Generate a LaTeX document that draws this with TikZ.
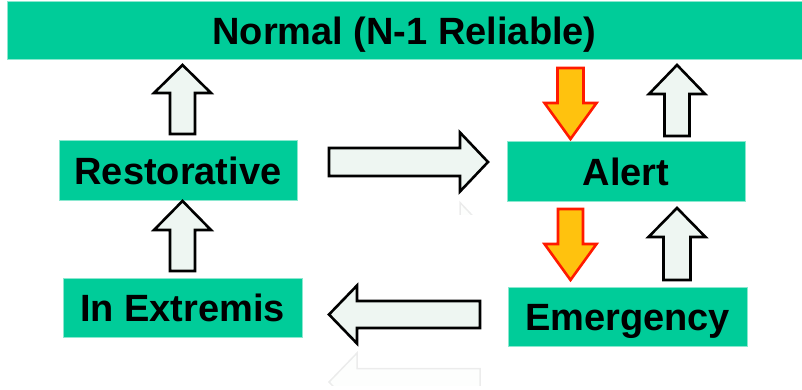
\documentclass[tikz,border=0pt]{standalone}
\usepackage{fontspec}
\setmainfont{Liberation Sans}
\definecolor{boxgreen}{HTML}{00CC99}
\definecolor{boxedge}{HTML}{8AE8CF}
\definecolor{arrowfill}{HTML}{EEF6F2}
\definecolor{warnfill}{HTML}{FFC20E}
\definecolor{warnedge}{HTML}{FF1A00}
\tikzset{
  statebox/.style={fill=boxgreen, draw=boxedge, line width=1pt, inner sep=0pt,
    font=\fontsize{38}{40}\selectfont\bfseries, text height=27.2pt, text depth=0pt},
  okarrow/.style={fill=arrowfill, draw=black, line width=2.6pt, miter limit=10},
  warnarrow/.style={fill=warnfill, draw=warnedge, line width=2.6pt, miter limit=10},
  ghost/.style={fill=arrowfill, draw=black!60, line width=1.5pt, opacity=0.12},
}
% vertical block arrow: {cx}{tail y}{tip y}{shaft half width}{head half width}{head base y}
\newcommand{\vblock}[7]{%
  \path[#1] (#2-#5,#3) -- (#2-#5,#7) -- (#2-#6,#7) -- (#2,#4) -- (#2+#6,#7)
    -- (#2+#5,#7) -- (#2+#5,#3) -- cycle;}
% horizontal block arrow: {cy}{tail x}{tip x}{shaft half width}{head half width}{head base x}
\newcommand{\hblock}[7]{%
  \path[#1] (#3,#2-#5) -- (#7,#2-#5) -- (#7,#2-#6) -- (#4,#2) -- (#7,#2+#6)
    -- (#7,#2+#5) -- (#3,#2+#5) -- cycle;}
\begin{document}
\begin{tikzpicture}[x=1pt,y=-1pt]
  \useasboundingbox (0,0) rectangle (802,390);

  % state boxes
  \node[statebox, minimum width=795pt, minimum height=58pt] (normal) at (404.5,31) {Normal (N-1 Reliable)};
  \node[statebox, minimum width=238pt, minimum height=59pt] (restorative) at (178,170.5) {Restorative};
  \node[statebox, minimum width=238pt, minimum height=59pt] (alert) at (626,171.5) {Alert};
  \node[statebox, minimum width=239pt, minimum height=59pt] (extremis) at (182.5,307.5) {In Extremis};
  \node[statebox, minimum width=239pt, minimum height=59pt] (emergency) at (627.5,316.5) {Emergency};

  % transitions on the left column
  \vblock{okarrow}{182.5}{134}{65}{12.5}{28.5}{93}
  \vblock{okarrow}{182.5}{271}{201}{12.5}{28.5}{230}

  % transitions on the right column
  \vblock{warnarrow}{570.5}{68}{139}{13}{26}{103}
  \vblock{okarrow}{677}{136}{65}{12.5}{28}{94}
  \vblock{warnarrow}{570.5}{209}{280}{12.5}{26}{244}
  \vblock{okarrow}{677}{280}{208}{13.5}{28.5}{237}

  % horizontal transitions
  \hblock{okarrow}{162}{329}{488}{14}{29.5}{460}
  \hblock{okarrow}{314.5}{480}{329}{13.5}{29}{357}

  % faint mirror images under the horizontal arrows
  \begin{scope}
    \clip (300,350) rectangle (500,385);
    \hblock{ghost}{382}{480}{329}{13.5}{29}{357}
  \end{scope}
  \begin{scope}
    \clip (440,198) rectangle (500,214);
    \hblock{ghost}{232}{329}{488}{14}{29.5}{460}
  \end{scope}
\end{tikzpicture}
\end{document}
